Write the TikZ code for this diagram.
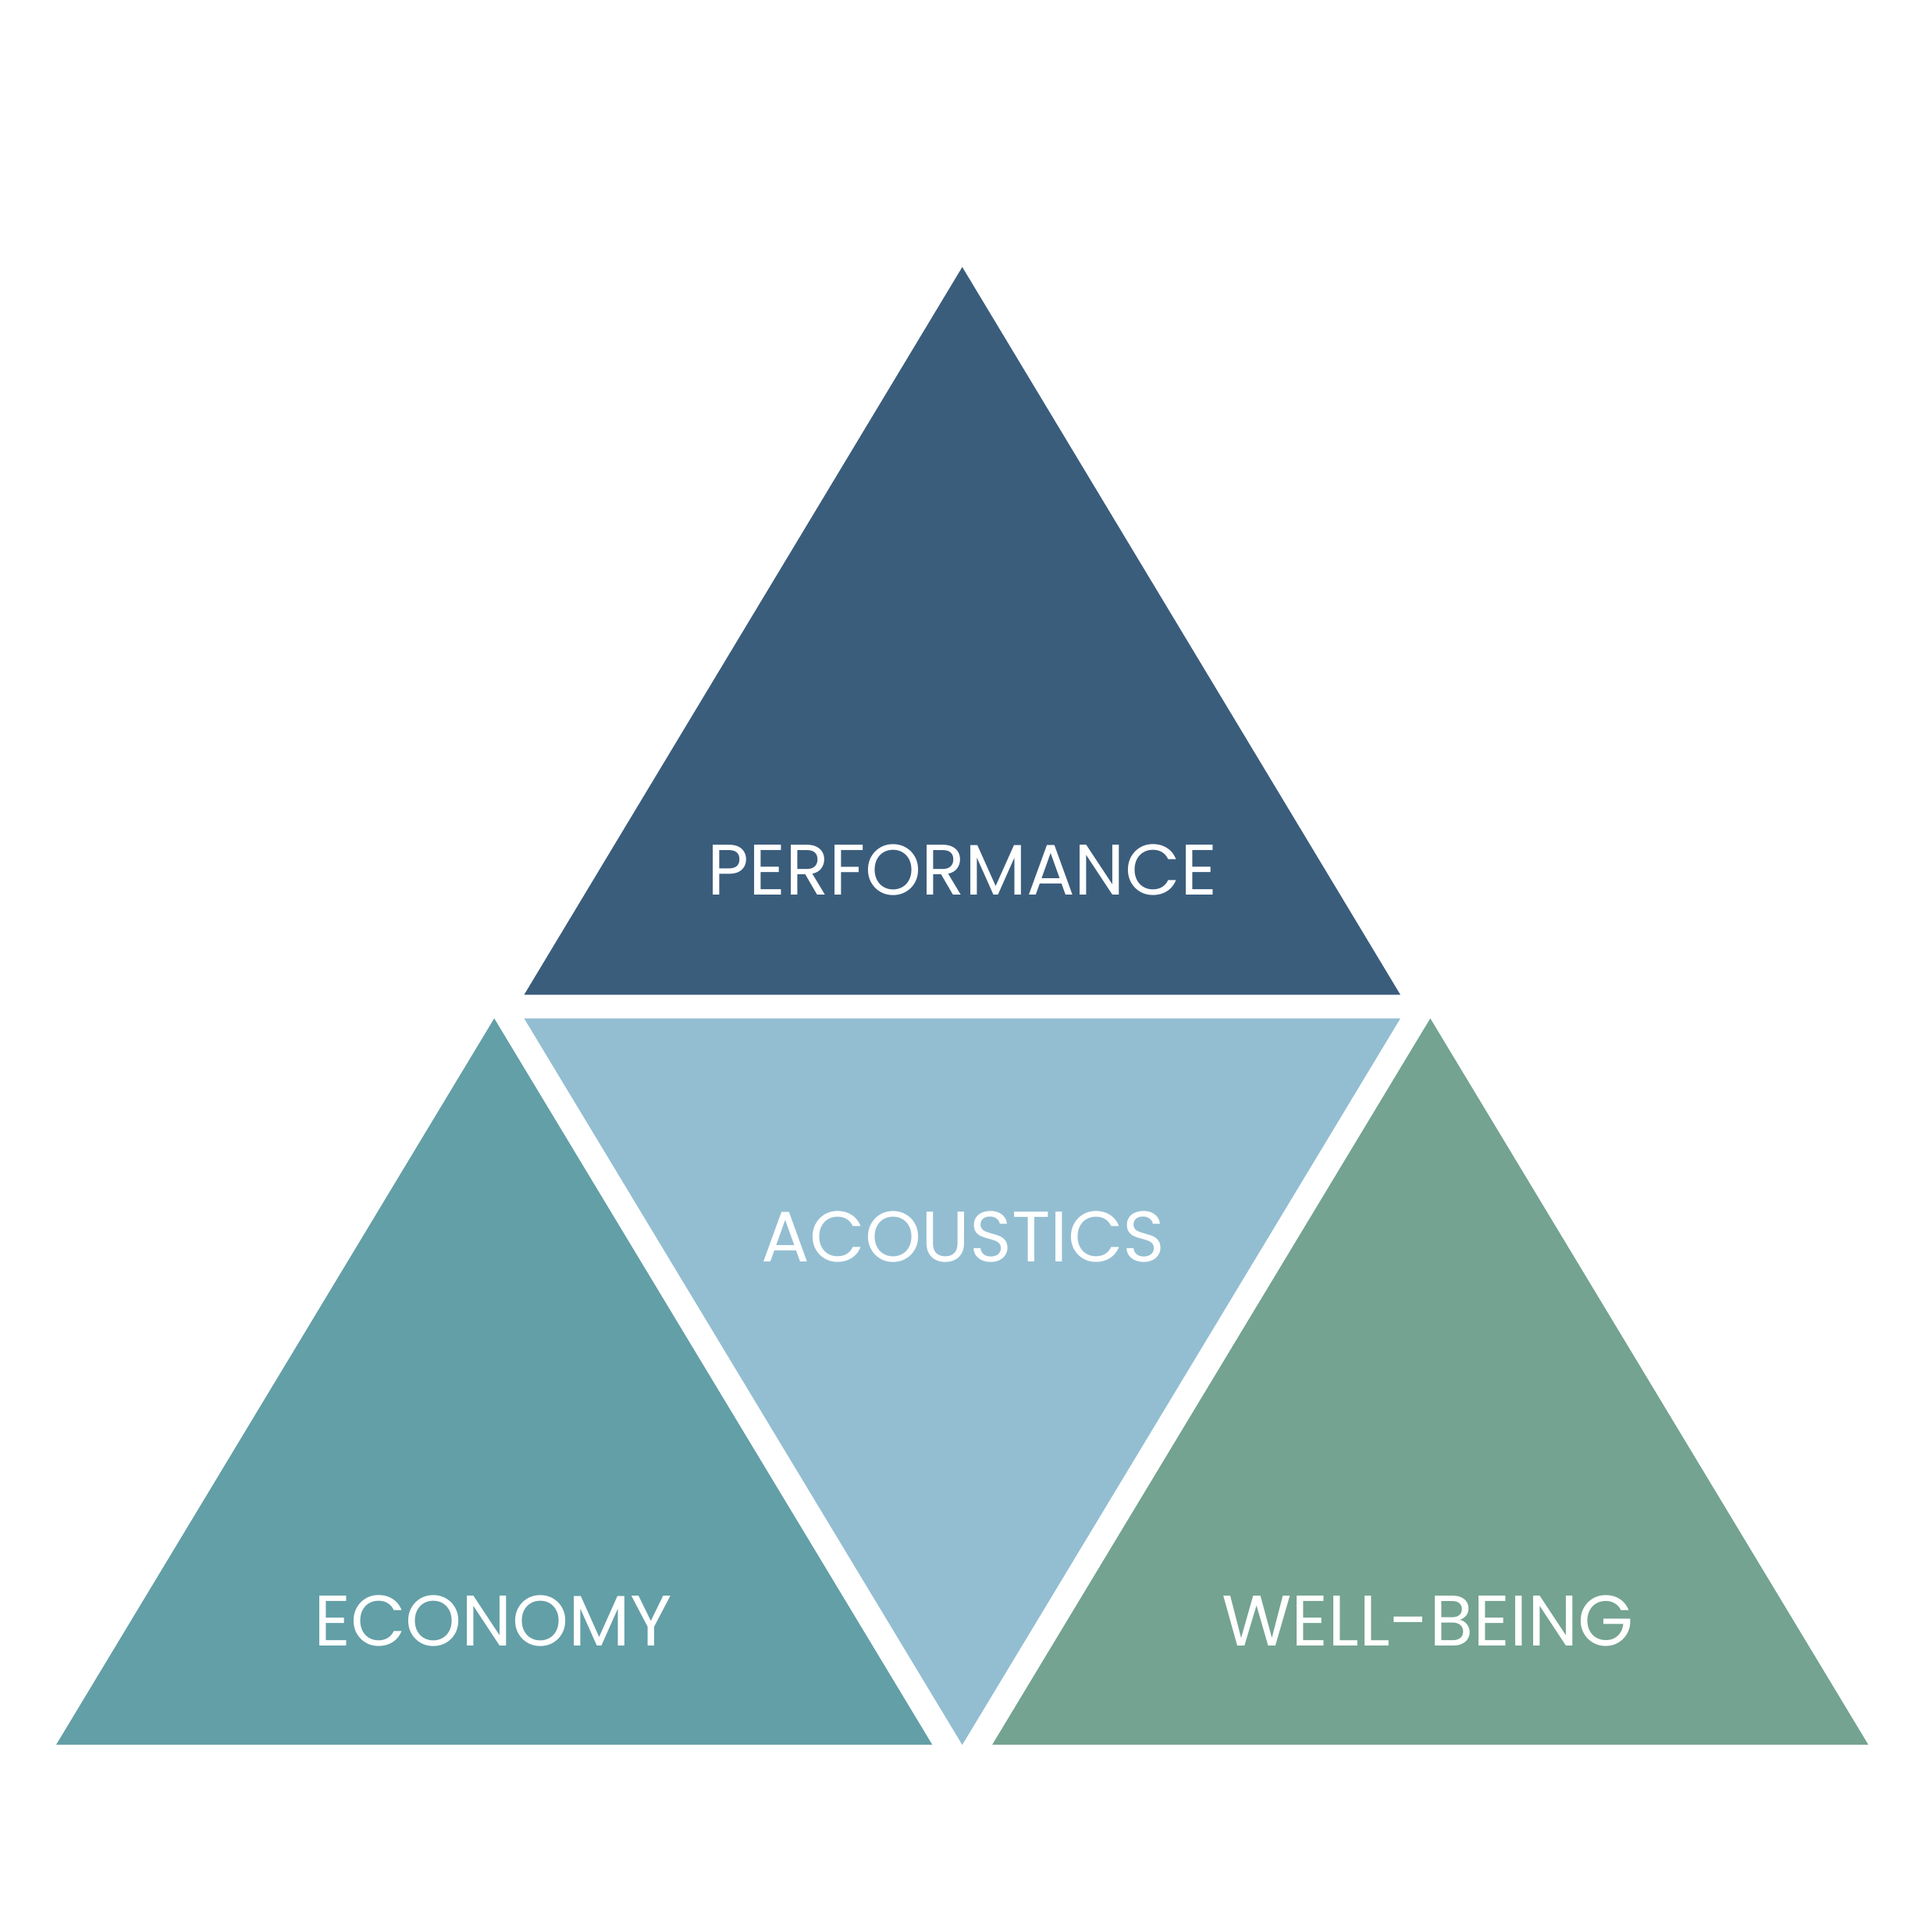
\documentclass[tikz,border=0pt]{standalone}
\usepackage{fontspec}
\setmainfont{Poppins}
\definecolor{perfblue}{HTML}{3B5D7C}
\definecolor{acoublue}{HTML}{93BED2}
\definecolor{econteal}{HTML}{639FA7}
\definecolor{wellgreen}{HTML}{74A391}
\tikzset{
  label/.style={text=white, font=\fontsize{16.3}{18}\selectfont, inner sep=0pt}
}
\begin{document}
\begin{tikzpicture}[x=0.01cm, y=-0.01cm]
            \useasboundingbox (0,0) rectangle (1548,1548);
            % corners
            \coordinate (ptop) at (771,214);
            \coordinate (pl) at (420,797);
            \coordinate (pr) at (1122,797);
            \coordinate (al) at (420,816);
            \coordinate (ar) at (1122,816);
            \coordinate (ab) at (771,1398);
            \coordinate (etop) at (396,816);
            \coordinate (el) at (45,1398);
            \coordinate (er) at (747,1398);
            \coordinate (wtop) at (1146,816);
            \coordinate (wl) at (795,1398);
            \coordinate (wr) at (1497,1398);
            \fill[perfblue] (ptop) -- (pl) -- (pr) -- cycle;
            \fill[acoublue] (al) -- (ar) -- (ab) -- cycle;
            \fill[econteal] (etop) -- (el) -- (er) -- cycle;
            \fill[wellgreen] (wtop) -- (wl) -- (wr) -- cycle;
            \node[label] (perf) at (771,697) {PERFORMANCE};
            \node[label] (acou) at (772,991) {ACOUSTICS};
            \node[label] (econ) at (395,1299) {ECONOMY};
            \node[label] (well) at (1144,1299) {WELL-BEING};
        \end{tikzpicture}
\end{document}
